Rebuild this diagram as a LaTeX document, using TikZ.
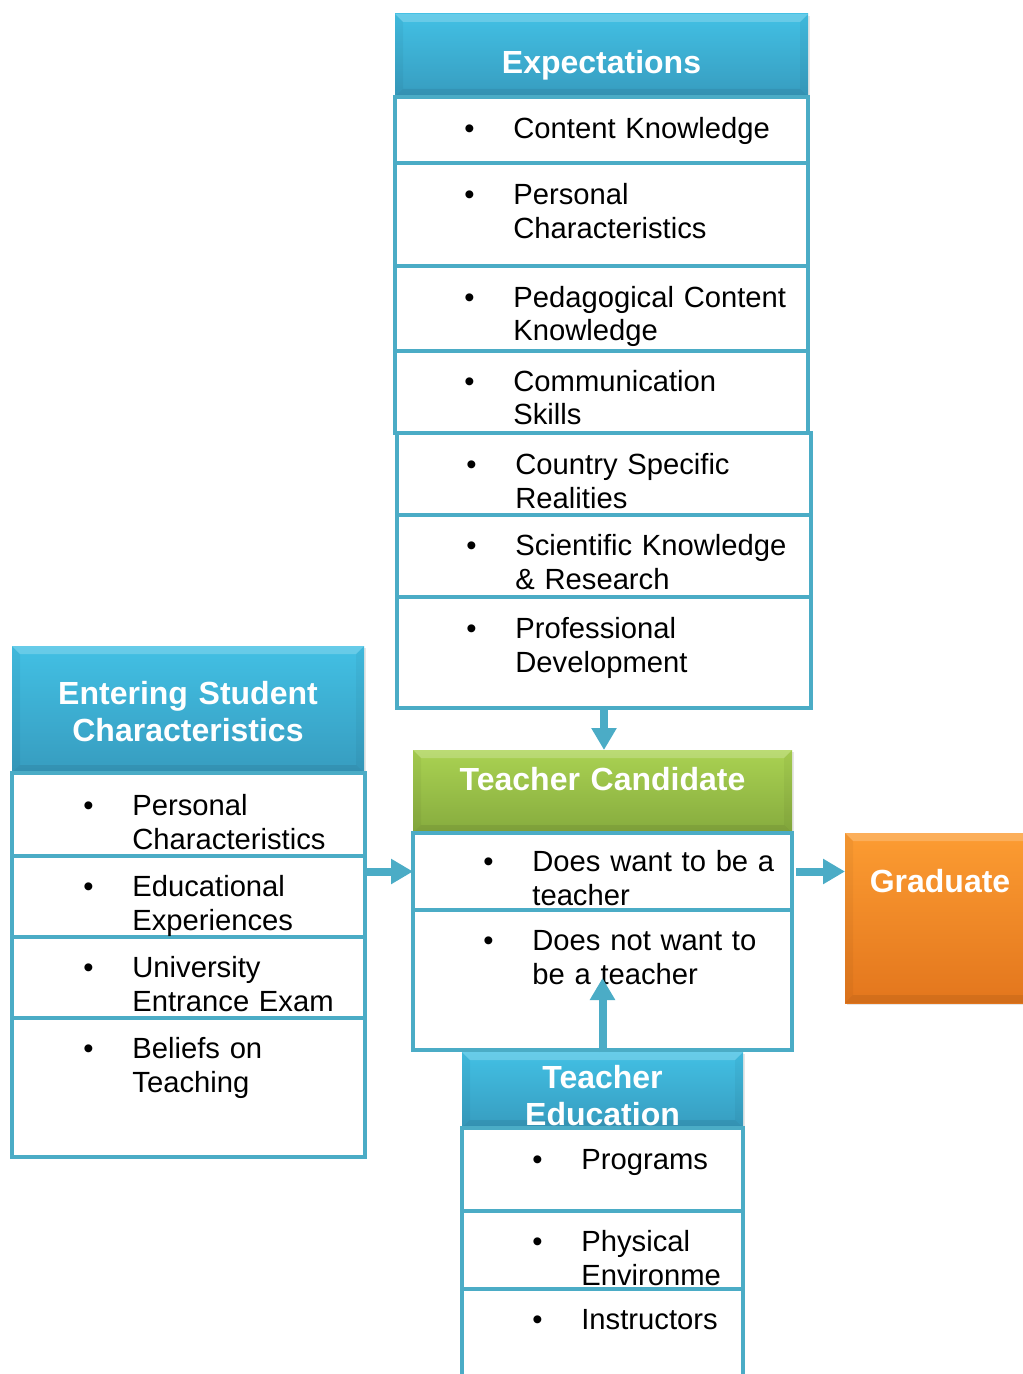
\documentclass[tikz,border=0pt]{standalone}
\usepackage{fontspec}
\setmainfont{Liberation Sans}
\usetikzlibrary{arrows.meta,shadows}

\definecolor{frameblue}{HTML}{4BACC6}
\definecolor{headtop}{HTML}{42C0E4}
\definecolor{headbot}{HTML}{379CBF}
\definecolor{greentop}{HTML}{AAD252}
\definecolor{greenbot}{HTML}{86AB3E}
\definecolor{orangetop}{HTML}{FC9C32}
\definecolor{orangebot}{HTML}{E3761D}

\newcommand{\bulletmark}{\makebox[24.5pt][l]{\textbullet}}
\newcommand{\bulletgap}{\hspace*{24.5pt}}

\tikzset{
  headbox/.style={top color=headtop, bottom color=headbot, inner sep=0pt, outer sep=0pt,
    anchor=north west, drop shadow={opacity=0.2, shadow xshift=1pt, shadow yshift=-1pt},
    path picture={
      \fill[white, opacity=0.2] (path picture bounding box.north west)
        -- (path picture bounding box.north east)
        -- ([xshift=-4pt, yshift=-4pt]path picture bounding box.north east)
        -- ([xshift=4pt, yshift=-4pt]path picture bounding box.north west) -- cycle;
      \fill[black, opacity=0.04] (path picture bounding box.north west)
        -- ([xshift=4pt, yshift=-4pt]path picture bounding box.north west)
        -- ([xshift=4pt, yshift=4pt]path picture bounding box.south west)
        -- (path picture bounding box.south west) -- cycle;
      \fill[black, opacity=0.04] (path picture bounding box.north east)
        -- ([xshift=-4pt, yshift=-4pt]path picture bounding box.north east)
        -- ([xshift=-4pt, yshift=4pt]path picture bounding box.south east)
        -- (path picture bounding box.south east) -- cycle;
      \fill[black, opacity=0.07] (path picture bounding box.south west)
        -- ([xshift=4pt, yshift=4pt]path picture bounding box.south west)
        -- ([xshift=-4pt, yshift=4pt]path picture bounding box.south east)
        -- (path picture bounding box.south east) -- cycle;
    }},
  greenbox/.style={headbox, top color=greentop, bottom color=greenbot},
  orangebox/.style={headbox, top color=orangetop, bottom color=orangebot},
  rowbox/.style={draw=frameblue, line width=2pt, fill=white, inner sep=0pt, outer sep=0pt,
    anchor=north west},
  title/.style={text=white, font=\fontsize{16}{18.5}\selectfont\bfseries, text width=180pt,
    align=center, inner sep=0pt, anchor=base},
  item/.style={font=\fontsize{14.6}{17}\selectfont, text width=200pt, align=left,
    inner sep=0pt, anchor=base west},
  flow/.style={draw=frameblue, line width=4pt, -{Triangle[width=12pt,length=11pt]}},
}

\begin{document}
\begin{tikzpicture}[x=0.5pt,y=-0.5pt]
\useasboundingbox (0,0) rectangle (1022,1374);

\node[headbox, minimum width=206.5pt, minimum height=41.5pt] (exphead) at (395,14) {};
\node[headbox, minimum width=176pt, minimum height=63.5pt] (stuhead) at (12,646) {};
\node[greenbox, minimum width=189.5pt, minimum height=41.5pt] (candhead) at (413,750) {};
\node[headbox, minimum width=140.5pt, minimum height=38pt] (eduhead) at (462,1052) {};
\node[orangebox, minimum width=95pt, minimum height=85pt] (grad) at (845,833) {};

\node[title] (exptitle) at (601.5,74) {Expectations};
\node[title] (stutitle) at (188,704) {Entering Student\\Characteristics};
\node[title] (candtitle) at (602.5,790) {Teacher Candidate};
\node[title] (edutitle) at (602.5,1088) {Teacher\\Education};
\node[title] (gradtitle) at (940,892) {Graduate};

% expectations
\node[rowbox, minimum width=206.5pt, minimum height=33pt] (exp1) at (395,97) {};
\node[rowbox, minimum width=206.5pt, minimum height=51.5pt] (exp2) at (395,163) {};
\node[rowbox, minimum width=206.5pt, minimum height=42.5pt] (exp3) at (395,266) {};
\node[rowbox, minimum width=206.5pt, minimum height=41pt] (exp4) at (395,351) {};
\node[rowbox, minimum width=207pt, minimum height=41pt] (exp5) at (397,433) {};
\node[rowbox, minimum width=207pt, minimum height=41pt] (exp6) at (397,515) {};
\node[rowbox, minimum width=207pt, minimum height=55.5pt] (exp7) at (397,597) {};

\node[item] (exp1t) at (464,139) {\bulletmark Content Knowledge};
\node[item] (exp2t) at (464,205) {\bulletmark Personal\\\bulletgap Characteristics};
\node[item] (exp3t) at (464,307) {\bulletmark Pedagogical Content\\\bulletgap Knowledge};
\node[item] (exp4t) at (464,391) {\bulletmark Communication\\\bulletgap Skills};
\node[item] (exp5t) at (466,474) {\bulletmark Country Specific\\\bulletgap Realities};
\node[item] (exp6t) at (466,555) {\bulletmark Scientific Knowledge\\\bulletgap \& Research};
\node[item] (exp7t) at (466,638) {\bulletmark Professional\\\bulletgap Development};

% entering student
\node[rowbox, minimum width=176.5pt, minimum height=41.5pt] (stu1) at (12,773) {};
\node[rowbox, minimum width=176.5pt, minimum height=40.5pt] (stu2) at (12,856) {};
\node[rowbox, minimum width=176.5pt, minimum height=40.5pt] (stu3) at (12,937) {};
\node[rowbox, minimum width=176.5pt, minimum height=69.5pt] (stu4) at (12,1018) {};

\node[item] (stu1t) at (83,815) {\bulletmark Personal\\\bulletgap Characteristics};
\node[item] (stu2t) at (83,896) {\bulletmark Educational\\\bulletgap Experiences};
\node[item] (stu3t) at (83,977) {\bulletmark University\\\bulletgap Entrance Exam};
\node[item] (stu4t) at (83,1058) {\bulletmark Beliefs on\\\bulletgap Teaching};

% teacher candidate
\node[rowbox, minimum width=189.5pt, minimum height=38.5pt] (cand1) at (413,833) {};
\node[rowbox, minimum width=189.5pt, minimum height=70pt] (cand2) at (413,910) {};

\node[item] (cand1t) at (483,871) {\bulletmark Does want to be a\\\bulletgap teacher};
\node[item] (cand2t) at (483,950) {\bulletmark Does not want to\\\bulletgap be a teacher};

% teacher education
\node[rowbox, minimum width=140.5pt, minimum height=41.5pt] (edu1) at (462,1128) {};
\node[rowbox, minimum width=140.5pt, minimum height=39pt] (edu2) at (462,1211) {};
\node[rowbox, minimum width=140.5pt, minimum height=50pt] (edu3) at (462,1289) {};

\node[item] (edu1t) at (532,1169) {\bulletmark Programs};
\node[item] (edu2t) at (532,1251) {\bulletmark Physical\\\bulletgap Environme};
\node[item] (edu3t) at (532,1329) {\bulletmark Instructors};

\coordinate (uptip) at (602.5,978);

\draw[flow] (exp7.south) -- (exp7.south |- candhead.north);
\draw[flow] (stu2.east |- cand1.west) -- (cand1.west);
\draw[flow, shorten <=2pt] (cand1.east) -- (cand1.east -| grad.west);
\draw[flow] (eduhead.north) -- (uptip);
\end{tikzpicture}
\end{document}
